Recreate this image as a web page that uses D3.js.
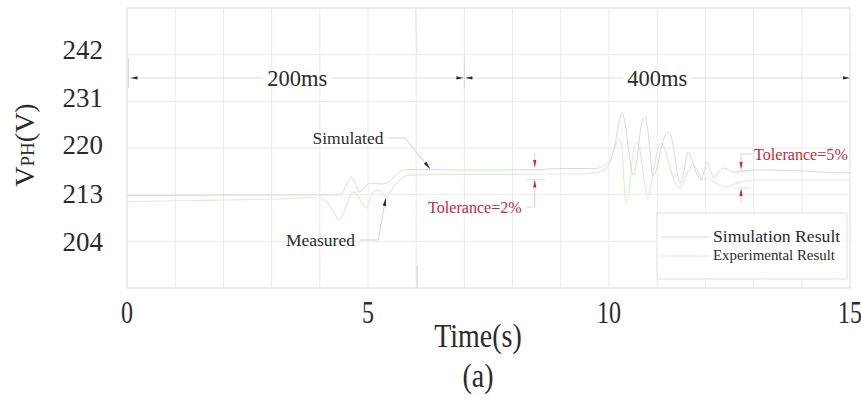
<!DOCTYPE html>
<html>
<head>
<meta charset="utf-8">
<script src="https://cdn.jsdelivr.net/npm/d3@7/dist/d3.min.js"></script>
<style>
  html, body { margin: 0; padding: 0; background: #fff; }
  svg { display: block; font-family: "Liberation Serif", "Times New Roman", serif; }
</style>
</head>
<body>
<svg id="chart" width="861" height="401"></svg>
<script>
// Phase voltage: simulation vs. experiment (time in s, voltage in V)
const simT = [0, 1.52, 2.55, 3.8, 4.32, 4.46, 4.56, 4.65, 4.73, 4.83, 4.94, 5.04, 5.17, 5.29, 5.39, 5.52, 5.66, 5.81, 6.08, 6.91, 7.74, 8.57, 8.98, 9.71, 9.88, 10.02, 10.12, 10.21, 10.27, 10.33, 10.42, 10.5, 10.58, 10.66, 10.75, 10.83, 10.91, 11.0, 11.08, 11.16, 11.25, 11.33, 11.41, 11.47, 11.56, 11.64, 11.72, 11.83, 11.91, 11.97, 12.03, 12.1, 12.18, 12.26, 12.37, 12.45, 12.57, 12.72, 13.13, 13.82, 14.38, 15];
const simV = [212.72, 212.76, 212.81, 212.81, 212.81, 213.14, 214.43, 215.43, 214.57, 213.29, 214.0, 214.57, 214.5, 214.43, 214.57, 215.29, 216.14, 216.5, 216.5, 216.43, 216.43, 216.5, 216.64, 216.64, 217.0, 217.86, 220.0, 225.38, 227.49, 225.38, 218.57, 215.71, 217.86, 223.98, 226.55, 221.17, 215.57, 216.86, 219.57, 222.11, 223.04, 220.0, 216.43, 214.6, 216.43, 219.0, 217.86, 215.71, 215.0, 216.14, 217.57, 216.43, 215.29, 216.0, 216.71, 216.57, 216.14, 216.29, 216.43, 216.36, 216.14, 216.0];

const expT = [0, 1.52, 2.55, 3.38, 3.8, 4.05, 4.21, 4.32, 4.4, 4.48, 4.59, 4.69, 4.79, 4.88, 4.96, 5.04, 5.12, 5.19, 5.27, 5.37, 5.46, 5.56, 5.66, 5.77, 5.87, 6.7, 7.74, 8.78, 9.4, 9.71, 9.88, 10.02, 10.12, 10.21, 10.27, 10.31, 10.35, 10.42, 10.48, 10.56, 10.64, 10.73, 10.81, 10.89, 10.98, 11.06, 11.16, 11.27, 11.39, 11.47, 11.56, 11.66, 11.74, 11.85, 11.95, 12.03, 12.18, 12.34, 12.45, 12.61, 12.82, 13.13, 13.96, 15];
const expV = [211.59, 211.78, 211.97, 212.16, 212.34, 212.06, 210.75, 209.06, 208.13, 209.06, 211.88, 213.29, 212.63, 211.13, 210.38, 211.88, 213.29, 213.57, 213.29, 212.44, 213.29, 214.29, 215.0, 215.57, 215.71, 215.79, 215.79, 215.86, 215.86, 216.0, 216.29, 217.57, 219.57, 221.4, 219.29, 215.0, 211.31, 213.57, 217.86, 220.7, 219.29, 215.0, 212.06, 215.0, 218.57, 220.47, 219.29, 216.71, 214.29, 213.86, 215.0, 216.43, 217.14, 216.14, 215.0, 215.29, 214.71, 214.14, 214.0, 214.43, 214.86, 215.0, 215.0, 215.0];

const xTicks = [0, 5, 10, 15];
const yTicks = [204, 213, 220, 231, 242];
const seriesNames = ["Simulation Result", "Experimental Result"];
const intervalLabels = ["200ms", "400ms"];
const intervalBounds = [0.03, 7.0, 15];
const toleranceLabels = ["Tolerance=2%", "Tolerance=5%"];

const svg = d3.select("#chart");
const plot = { left: 127, right: 850, top: 8, bottom: 288 };

const x = d3.scaleLinear().domain([0, 15]).range([plot.left, plot.right]);
// the voltage axis is graduated unevenly; the scale follows its labels
const y = d3.scaleLinear().domain(yTicks).range([242, 194, 145, 98, 50]);
const gridRows = d3.scaleLinear().domain([0, 6]).range([plot.bottom, plot.top]);

const GRID = "#ebebeb";
const SIM = "#dadada";
const EXP = "#d2f5ca";
const RED = "#c42a3a";
const DARK = "#2b2b2b";

// grid
const grid = svg.append("g");
grid.selectAll("line.v").data(d3.range(0, 16)).join("line")
  .attr("x1", d => x(d)).attr("x2", d => x(d))
  .attr("y1", plot.top).attr("y2", plot.bottom)
  .attr("stroke", GRID).attr("stroke-width", 1);
grid.selectAll("line.h").data(d3.range(0, 7)).join("line")
  .attr("x1", plot.left).attr("x2", plot.right)
  .attr("y1", d => gridRows(d)).attr("y2", d => gridRows(d))
  .attr("stroke", GRID).attr("stroke-width", 1);

// axis labels
svg.append("g").selectAll("text").data(yTicks).join("text")
  .attr("x", 103).attr("y", d => y(d))
  .attr("dy", "0.35em")
  .attr("text-anchor", "end")
  .attr("font-size", 27).attr("fill", DARK)
  .text(d => d);

svg.append("g").selectAll("text").data(xTicks).join("text")
  .attr("transform", d => `translate(${x(d)},323) scale(1,1.3)`)
  .attr("text-anchor", "middle")
  .attr("font-size", 24).attr("fill", DARK)
  .text(d => d);

svg.append("text")
  .attr("transform", "translate(478,347) scale(1,1.2)")
  .attr("text-anchor", "middle").attr("font-size", 28).attr("fill", DARK)
  .text("Time(s)");

svg.append("text")
  .attr("transform", "translate(478,387) scale(1,1.2)")
  .attr("text-anchor", "middle").attr("font-size", 28).attr("fill", DARK)
  .text("(a)");

const yl = svg.append("text")
  .attr("transform", "translate(34,145) rotate(-90)")
  .attr("text-anchor", "middle").attr("fill", DARK).attr("font-size", 28);
yl.append("tspan").text("V");
yl.append("tspan").attr("font-size", 19).text("PH");
yl.append("tspan").text("(V)");

// series
const line = d3.line().x(d => x(d[0])).y(d => y(d[1])).curve(d3.curveMonotoneX);
svg.append("path").datum(d3.zip(expT, expV))
  .attr("d", line).attr("fill", "none").attr("stroke", EXP).attr("stroke-width", 1.2);
svg.append("path").datum(d3.zip(simT, simV))
  .attr("d", line).attr("fill", "none").attr("stroke", SIM).attr("stroke-width", 1);

// faint trace crossing at t = 6 s
svg.append("line").attr("x1", x(5.98)).attr("x2", x(6.02)).attr("y1", plot.top).attr("y2", gridRows(5))
  .attr("stroke", "#e6e6e6");
svg.append("line").attr("x1", x(6.02)).attr("x2", x(6.02)).attr("y1", 265).attr("y2", plot.bottom)
  .attr("stroke", "#d4d4d4");

function arrowHead(g, tip, from, color, len, half) {
  const dx = tip[0] - from[0], dy = tip[1] - from[1];
  const L = Math.hypot(dx, dy);
  const ux = dx / L, uy = dy / L;
  const bx = tip[0] - ux * len, by = tip[1] - uy * len;
  g.append("path")
    .attr("d", `M${tip[0]},${tip[1]}L${bx - uy * half},${by + ux * half}L${bx + uy * half},${by - ux * half}Z`)
    .attr("fill", color);
}

// time-interval dimension line
const dimV = 235.6, dimTop = 240.2, dimBot = 233.3;
const dim = svg.append("g");
dim.append("line").attr("x1", x(intervalBounds[0])).attr("x2", x(intervalBounds[2]))
  .attr("y1", y(dimV)).attr("y2", y(dimV)).attr("stroke", "#dedede");
intervalBounds.slice(0, 2).forEach(b => {
  dim.append("line").attr("x1", x(b)).attr("x2", x(b))
    .attr("y1", y(dimTop)).attr("y2", y(dimBot)).attr("stroke", "#d8d8d8");
});
const dy0 = y(dimV);
arrowHead(dim, [x(intervalBounds[0]) + 2, dy0], [x(intervalBounds[0]) + 12, dy0], DARK, 7, 1.6);
arrowHead(dim, [x(intervalBounds[1]) - 1, dy0], [x(intervalBounds[1]) - 12, dy0], DARK, 7, 1.6);
arrowHead(dim, [x(intervalBounds[1]) + 1, dy0], [x(intervalBounds[1]) + 12, dy0], DARK, 7, 1.6);
arrowHead(dim, [x(intervalBounds[2]), dy0], [x(intervalBounds[2]) - 12, dy0], DARK, 7, 1.6);
[3.53, 11.0].forEach((c, i) => {
  const t = dim.append("text").attr("x", x(c)).attr("y", dy0).attr("dy", "0.35em")
    .attr("text-anchor", "middle").attr("font-size", 22.5).attr("fill", DARK)
    .text(intervalLabels[i]);
  const bb = t.node().getBBox();
  dim.insert("rect", "text").attr("x", bb.x - 4).attr("y", dy0 - 2).attr("width", bb.width + 8).attr("height", 4)
    .attr("fill", "#fff");
});

// callouts
function callout(label, textEnd, pts) {
  const g = svg.append("g");
  g.append("text").attr("x", x(textEnd)).attr("y", y(pts[0][1])).attr("dy", "0.35em")
    .attr("text-anchor", "end").attr("font-size", 17.5).attr("fill", DARK).text(label);
  const p = pts.map(d => [x(d[0]), y(d[1])]);
  g.append("path").attr("d", d3.line()(p)).attr("fill", "none").attr("stroke", "#d4d4d4");
  arrowHead(g, p[p.length - 1], p[p.length - 2], DARK, 8, 1.7);
}
callout("Simulated", 5.32, [[5.41, 221.64], [5.77, 221.64], [6.29, 216.57]]);
callout("Measured", 4.73, [[4.83, 204.37], [5.21, 204.37], [5.37, 212.25]]);

// tolerance markers
function tolerance(label, t, upper, lower, tailTop, tailBot, side) {
  const g = svg.append("g");
  const cx = x(t);
  [upper - 0.28, lower].forEach(v => {
    g.append("line").attr("x1", cx - 8).attr("x2", cx + 10).attr("y1", y(v)).attr("y2", y(v))
      .attr("stroke", "#e4e4e4");
  });
  g.append("line").attr("x1", cx).attr("x2", cx).attr("y1", y(tailTop)).attr("y2", y(upper) - 6)
    .attr("stroke", "#f0c8cc");
  g.append("line").attr("x1", cx).attr("x2", cx).attr("y1", y(lower) + 6).attr("y2", y(tailBot))
    .attr("stroke", "#f0c8cc");
  arrowHead(g, [cx, y(upper)], [cx, y(upper) - 10], RED, 8, 1.6);
  arrowHead(g, [cx, y(lower)], [cx, y(lower) + 10], RED, 8, 1.6);
  if (side === "left") {
    g.append("line").attr("x1", cx).attr("x2", cx - 8).attr("y1", y(tailBot)).attr("y2", y(tailBot))
      .attr("stroke", "#f0c8cc");
    g.append("text").attr("x", cx - 13).attr("y", y(tailBot)).attr("dy", "0.35em")
      .attr("text-anchor", "end").attr("font-size", 16.1).attr("fill", RED).text(label);
  } else {
    g.append("line").attr("x1", cx).attr("x2", cx + 12).attr("y1", y(tailTop)).attr("y2", y(tailTop))
      .attr("stroke", "#f0c8cc");
    g.append("text").attr("x", cx + 13).attr("y", y(tailTop)).attr("dy", "0.35em")
      .attr("text-anchor", "start").attr("font-size", 16.1).attr("fill", RED).text(label);
  }
}
tolerance(toleranceLabels[0], 8.46, 216.71, 215.07, 218.86, 210.56, "left");
tolerance(toleranceLabels[1], 12.74, 216.43, 213.86, 218.71, 211.31, "right");

// frame
svg.append("rect").attr("x", plot.left).attr("y", plot.top)
  .attr("width", plot.right - plot.left).attr("height", plot.bottom - plot.top)
  .attr("fill", "none").attr("stroke", "#e4e4e4");

// legend
const lg = svg.append("g").attr("transform", "translate(657,213)");
lg.append("rect").attr("width", 190).attr("height", 66).attr("fill", "#fff").attr("stroke", "#e2e2e2");
const legendRows = [
  { name: seriesNames[0], color: SIM, y: 24, size: 17.7 },
  { name: seriesNames[1], color: EXP, y: 43, size: 14.9 }
];
legendRows.forEach(r => {
  lg.append("line").attr("x1", 5).attr("x2", 53).attr("y1", r.y).attr("y2", r.y)
    .attr("stroke", r.color).attr("stroke-width", 1.2);
  lg.append("text").attr("x", 56).attr("y", r.y - 1).attr("dy", "0.35em")
    .attr("font-size", r.size).attr("fill", DARK).text(r.name);
});
</script>
</body>
</html>
